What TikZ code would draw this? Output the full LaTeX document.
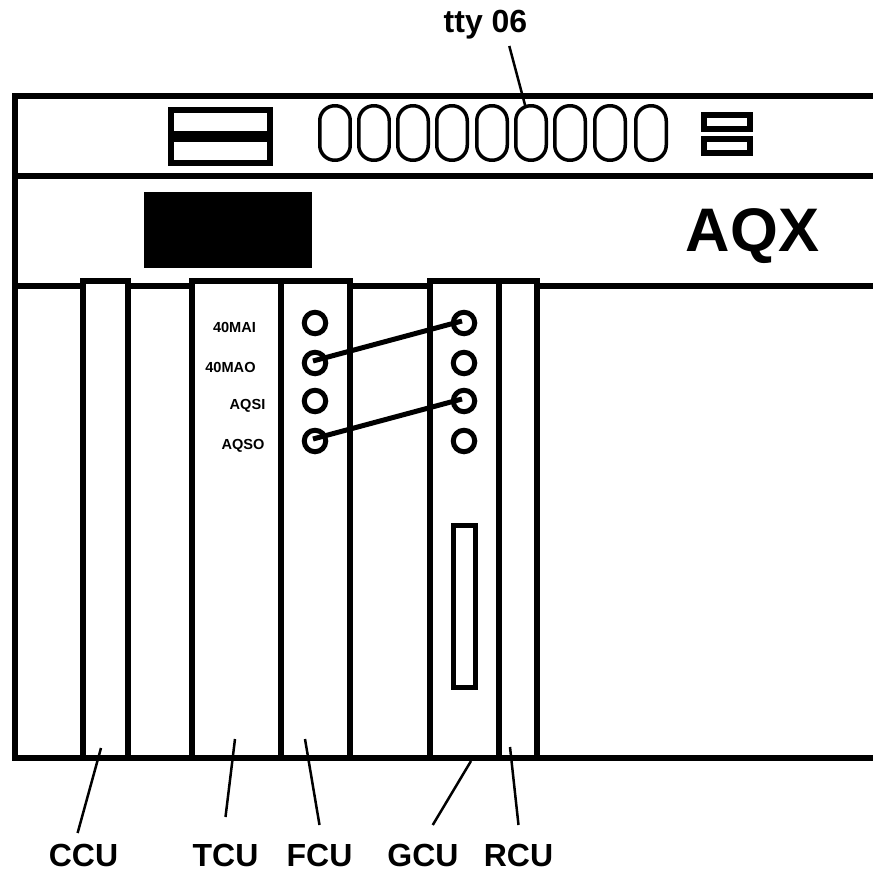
\documentclass[tikz,border=0pt]{standalone}
\usepackage{fontspec}
\setmainfont{Liberation Sans}
\usetikzlibrary{calc}

\begin{document}
\begin{tikzpicture}[
  x=0.02cm, y=-0.02cm,
  every node/.style={align=center, inner sep=0pt, outer sep=0pt},
  % Chassis and plug-in units
  rail/.style={draw=black, line width=0.11cm},
  unitbox/.style={
    rectangle, draw=black, fill=white,
    minimum height=9.54cm, line width=0.11cm
  },
  % Front panel parts
  digit/.style={
    rectangle, draw=black, rounded corners=0.3cm,
    minimum width=0.61cm, minimum height=1.09cm, line width=0.07cm
  },
  jack/.style={
    circle, draw=black, fill=white,
    minimum size=0.43cm, line width=0.1cm
  },
  panelbox/.style={rectangle, draw=black, line width=0.12cm},
  % Texts
  unitlabel/.style={font=\fontsize{18.2}{20}\selectfont\bfseries, text height=13.3pt, text depth=0pt},
  portlabel/.style={font=\fontsize{8.3}{10}\selectfont\bfseries, text height=6.05pt, text depth=0pt},
  % Lines
  wire/.style={draw=black, line width=0.1cm},
  lead/.style={draw=black, line width=0.05cm},
]
\useasboundingbox (0,0) rectangle (873,872);

% -------------------------------------------------------
% CHASSIS
% -------------------------------------------------------
\draw[rail] (873,96) -- (15,96) -- (15,758) -- (873,758);
\draw[rail] (15,176) -- (873,176);
\draw[rail] (15,286) -- (873,286);

% -------------------------------------------------------
% TOP STRIP
% -------------------------------------------------------
\node[panelbox, minimum width=1.98cm, minimum height=1.06cm] (drive) at (220.5,136.5) {};
\node[fill=black, minimum width=1.98cm, minimum height=0.22cm] (drivebar) at (220.5,136.5) {};

\node[digit] (d1) at (335,133) {};
\node[digit] (d2) at (374,133) {};
\node[digit] (d3) at (413,133) {};
\node[digit] (d4) at (452,133) {};
\node[digit] (d5) at (492,133) {};
\node[digit] (d6) at (531,133) {};
\node[digit] (d7) at (570,133) {};
\node[digit] (d8) at (610,133) {};
\node[digit] (d9) at (651,133) {};

\node[panelbox, minimum width=0.92cm, minimum height=0.28cm] (sw1) at (727,122) {};
\node[panelbox, minimum width=0.92cm, minimum height=0.28cm] (sw2) at (727,146) {};

% -------------------------------------------------------
% MIDDLE STRIP
% -------------------------------------------------------
\node[fill=black, minimum width=3.36cm, minimum height=1.52cm] (plate) at (228,230) {};
\node[font=\fontsize{35}{37}\selectfont\bfseries, text height=25.5pt, text depth=0pt] (aqx) at (752.5,228.6) {AQX};

% -------------------------------------------------------
% PLUG-IN UNITS
% -------------------------------------------------------
\node[unitbox, minimum width=0.9cm]  (ccu) at (105.5,519.5) {};
\node[unitbox, minimum width=1.78cm] (tcu) at (236.5,519.5) {};
\node[unitbox, minimum width=1.38cm] (fcu) at (315.5,519.5) {};
\node[unitbox, minimum width=1.38cm] (gcu) at (464.5,519.5) {};
\node[unitbox, minimum width=0.76cm] (rcu) at (518,519.5) {};

% Port names on the TCU
\node[portlabel] (mai) at (234.5,327) {40MAI};
\node[portlabel] (mao) at (230.5,367) {40MAO};
\node[portlabel] (qsi) at (247.5,404) {AQSI};
\node[portlabel] (qso) at (243,444)   {AQSO};

% Jacks
\node[jack] (fa) at (315,323) {};
\node[jack] (fb) at (315,363) {};
\node[jack] (fc) at (315,401) {};
\node[jack] (fd) at (315,441) {};
\node[jack] (ga) at (464,323) {};
\node[jack] (gb) at (464,363) {};
\node[jack] (gc) at (464,401) {};
\node[jack] (gd) at (464,441) {};

% Patch wires
\draw[wire] ([shift={(-2,-2)}]fb.center) -- ([shift={(-2,-2)}]ga.center);
\draw[wire] ([shift={(-2,-2)}]fd.center) -- ([shift={(-2,-2)}]gc.center);

% Slot on the GCU
\node[rectangle, draw=black, line width=0.1cm, minimum width=0.44cm, minimum height=3.24cm] (slot) at (464.5,606.5) {};

% -------------------------------------------------------
% CALLOUTS
% -------------------------------------------------------
\node[unitlabel, minimum height=1.02cm] (ttyl) at (485.5,20.5) {tty 06};
\draw[lead] (ttyl.-47) -- (d6.102);

\node[unitlabel, minimum height=0.88cm] (ccul) at (83.5,855)  {CCU};
\node[unitlabel, minimum height=1.52cm] (tcul) at (225.5,855) {TCU};
\node[unitlabel, minimum height=1.2cm]  (fcul) at (319.5,855) {FCU};
\node[unitlabel, minimum height=1.2cm]  (gcul) at (423,855)   {GCU};
\node[unitlabel, minimum height=1.2cm]  (rcul) at (518.5,855) {RCU};

\coordinate (ccutip) at (101,748);
\coordinate (tcutip) at (235,739);
\coordinate (fcutip) at (305,739);
\coordinate (gcutip) at (471,761);
\coordinate (rcutip) at (510,747);

\draw[lead] (ccul.105) -- (ccutip);
\draw[lead] (tcul.north) -- (tcutip);
\draw[lead] (fcul.north) -- (fcutip);
\draw[lead] (gcul.72) -- (gcutip);
\draw[lead] (rcul.north) -- (rcutip);

\end{tikzpicture}
\end{document}
